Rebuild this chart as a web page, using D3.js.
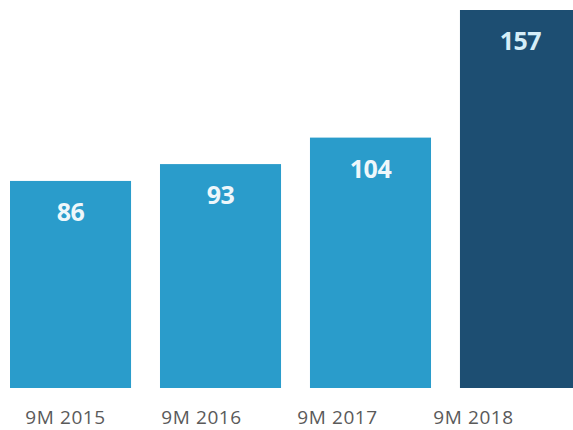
<!DOCTYPE html>
<html lang="en">
<head>
  <meta charset="UTF-8">
  <title>9M revenue</title>
  <script src="https://cdn.jsdelivr.net/npm/d3@7"></script>
  <style>
    body { margin: 0; background: #fff; }
  </style>
</head>
<body>
  <svg id="chart"></svg>
  <script>
    // data
    var categories = ["9M 2015", "9M 2016", "9M 2017", "9M 2018"];
    var values = [86, 93, 104, 157];
    var barColors = ["#2a9ccb", "#2a9ccb", "#2a9ccb", "#1d4e72"];

    var width = 573, height = 430;
    var svg = d3.select("#chart")
        .attr("width", width)
        .attr("height", height);

    var x = d3.scaleBand()
        .domain(categories)
        .range([10, 581])
        .paddingInner(0.193)
        .paddingOuter(0);

    // the labels under the bars sit a bit to the left (photo is skewed)
    var xLabel = d3.scalePoint()
        .domain(categories)
        .range([65, 473]);

    var y = d3.scaleLinear()
        .domain([0, 157])
        .range([388, 10]);

    var g = svg.append("g");

    // bars
    g.selectAll("rect")
        .data(values)
        .enter()
        .append("rect")
        .attr("x", function(d, i) { return x(categories[i]); })
        .attr("y", function(d) { return y(d); })
        .attr("width", x.bandwidth())
        .attr("height", function(d) { return y(0) - y(d); })
        .attr("fill", function(d, i) { return barColors[i]; });

    // value labels
    g.selectAll("text.val")
        .data(values)
        .enter()
        .append("text")
        .attr("class", "val")
        .attr("x", function(d, i) { return x(categories[i]) + x.bandwidth() / 2; })
        .attr("y", function(d) { return y(d) + 40; })
        .attr("text-anchor", "middle")
        .style("font-family", "'Open Sans', sans-serif")
        .style("font-weight", "bold")
        .style("font-size", "25px")
        .style("letter-spacing", "-0.5px")
        .attr("fill", function(d, i) { return i == 3 ? "#d6eef8" : "#eef7fb"; })
        .text(function(d) { return d; });

    // x axis labels
    var axis = d3.axisBottom(xLabel).tickSize(0).tickPadding(0);
    var ax = svg.append("g")
        .call(axis);
    ax.select(".domain").remove();
    ax.selectAll("text")
        .attr("y", 424)
        .attr("dy", null)
        .style("font-family", "'Open Sans', sans-serif")
        .style("font-size", "19px")
        .style("letter-spacing", "0.6px")
        .attr("fill", "#5a5a5a");
  </script>
</body>
</html>
